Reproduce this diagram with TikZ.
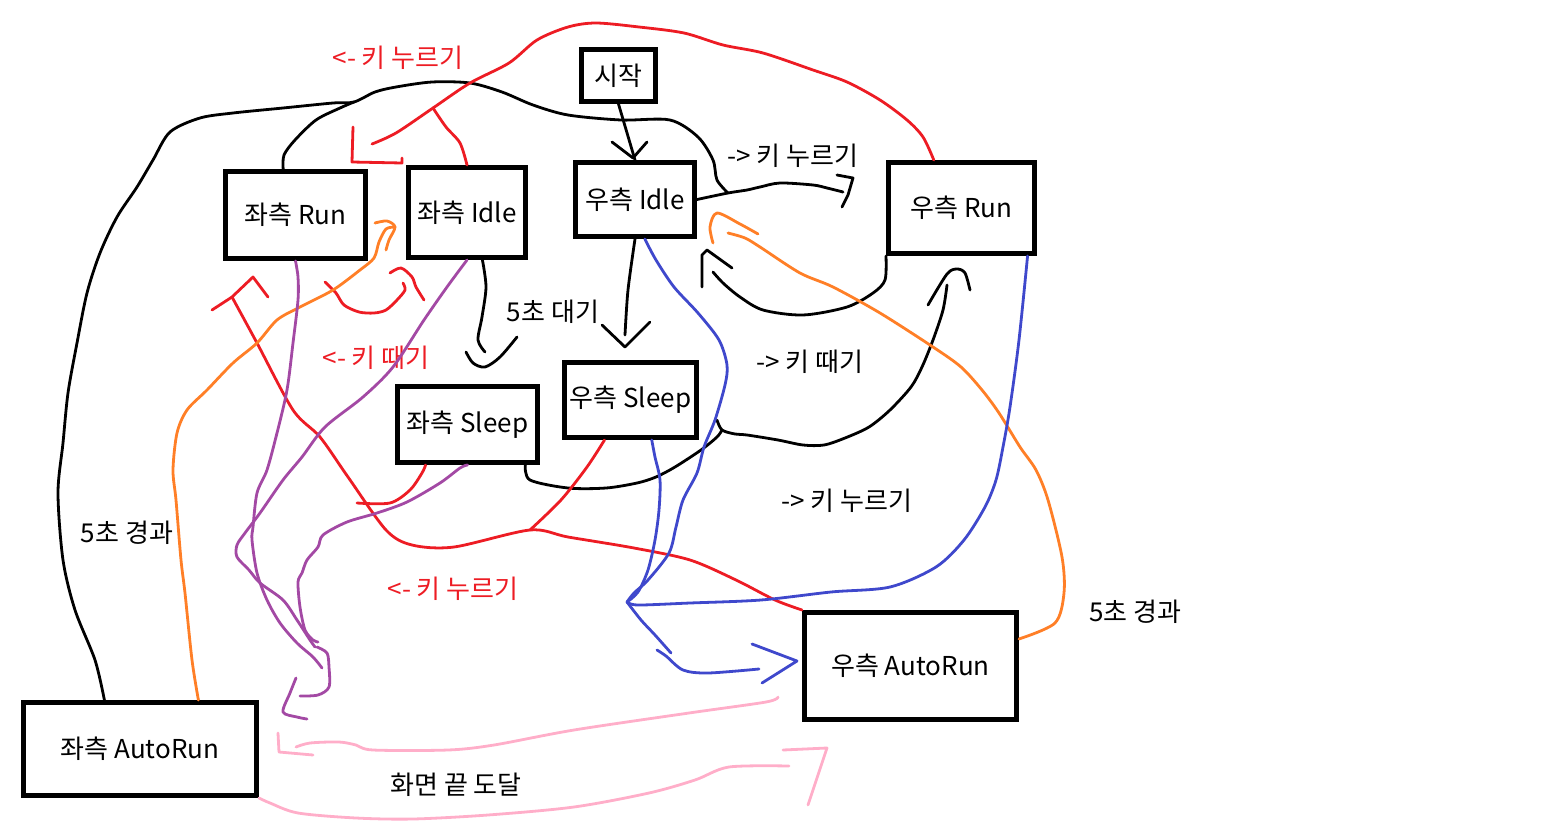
\documentclass[tikz,border=0pt]{standalone}
\usepackage{fontspec}
\setmainfont{Noto Sans CJK KR}
\usepackage{tikz}
\tikzset{>=latex}
\definecolor{penred}{RGB}{237,28,36}
\definecolor{penorange}{RGB}{255,127,39}
\definecolor{penblue}{RGB}{63,72,204}
\definecolor{penpurple}{RGB}{163,73,164}
\definecolor{penpink}{RGB}{255,174,201}
\tikzset{
  box/.style={draw, line width=5pt, inner sep=0pt, fill=white},
  pen/.style={line width=2.8pt, line cap=round, line join=round},
  lbl/.style={inner sep=0pt}
}

\begin{document}
\begin{tikzpicture}[x=1pt,y=-1pt,font=\fontsize{26}{30}\selectfont]
            \useasboundingbox (0,0) rectangle (1543,828);
            % states
            \node[box, minimum width=74, minimum height=52] (start) at (618.5,75.5) {시작};
            \node[box, minimum width=140, minimum height=87] (lrun) at (295.5,215) {좌측 Run};
            \node[box, minimum width=117, minimum height=90] (lidle) at (467,212.5) {좌측 Idle};
            \node[box, minimum width=119, minimum height=74] (ridle) at (635,199.5) {우측 Idle};
            \node[box, minimum width=146, minimum height=91] (rrun) at (961.5,208) {우측 Run};
            \node[box, minimum width=140, minimum height=76] (lsleep) at (467.5,424.5) {좌측 Sleep};
            \node[box, minimum width=132, minimum height=75] (rsleep) at (630.5,400) {우측 Sleep};
            \node[box, minimum width=233, minimum height=93] (lauto) at (140,749) {좌측 AutoRun};
            \node[box, minimum width=212, minimum height=107] (rauto) at (910.5,666) {우측 AutoRun};
            % labels
            \node[lbl, text=penred] (pressL) at (398,58) {<- 키 누르기};
            \node[lbl] (pressR) at (793,156) {-> 키 누르기};
            \node[lbl] (waitS) at (553,312) {5초 대기};
            \node[lbl, text=penred] (releaseL) at (376,358) {<- 키 때기};
            \node[lbl] (releaseR) at (810,362) {-> 키 때기};
            \node[lbl] (pressR2) at (847,501) {-> 키 누르기};
            \node[lbl] (timeL) at (127,533) {5초 경과};
            \node[lbl, text=penred] (pressL2) at (453,589) {<- 키 누르기};
            \node[lbl] (timeR) at (1135,612) {5초 경과};
            \node[lbl] (edge) at (456,785) {화면 끝 도달};
            % junctions
            \coordinate (jtop) at (728,193);
            \coordinate (jsleep) at (722,430);
            \coordinate (jblue) at (627,602);
            \coordinate (jred) at (530,530);

            % black
            \draw[pen] (start.south) -- (ridle.north);
            \draw[pen] (612,142) -- (633,158) -- (647,142);
            \draw[pen] plot[smooth] coordinates {(lauto.126) (95,660) (75,610) (63,560) (58,493) (63,443)
                (68,393) (77,343) (87,293) (100,253) (117,217) (137,187) (153,160) (170,132) (200,118)
                (233,113) (283,108) (333,103) (354,102) (375,92) (396,87) (432,82) (470,83) (502,92)
                (533,105) (568,115) (621,120) (670,120) (698,137) (713,160) (717,180) (jtop)};
            \draw[pen] plot[smooth] coordinates {(lrun.105) (284,155) (295,140) (316,120) (340,108) (354,102)};
            \draw[pen] plot[smooth] coordinates {(ridle.east) (jtop) (747,190) (760,187) (780,183) (813,185) (827,188) (843,192)};
            \draw[pen] (837,175) -- (853,178) -- (848,195) -- (842,207);
            \draw[pen] plot[smooth] coordinates {(rrun.south west) (885,280) (873,293) (847,307) (803,315) (763,310) (740,297) (723,283) (713,272)};
            \draw[pen] (702,287) -- (702,255) -- (707,250) -- (732,268);
            \draw[pen] plot[smooth] coordinates {(lidle.-72) (486,287) (482,317) (478,340) (485,352)};
            \draw[pen] plot[smooth] coordinates {(466,352) (473,363) (485,367) (500,357) (517,337)};
            \draw[pen] plot[smooth] coordinates {(ridle.south) (628,290) (625,335)};
            \draw[pen] (602,325) -- (625,347) -- (650,322);
            \draw[pen] plot[smooth] coordinates {(lsleep.-35) (530,480) (568,488) (606,488) (637,483) (656,477)
                (675,467) (701,450) (717,437) (jsleep)};
            \draw[pen] plot[smooth] coordinates {(717,420) (jsleep) (735,434) (747,435) (778,440) (803,445) (824,445)
                (845,438) (869,427) (890,410) (911,387) (922,367) (933,340) (943,310) (947,285)};
            \draw[pen] plot[smooth] coordinates {(928,305) (947,274) (957,269) (965,273) (970,290)};

            % red
            \draw[pen, penred] plot[smooth] coordinates {(rrun.120) (923,137) (907,120) (880,100) (847,82) (813,70)
                (763,53) (723,45) (684,33) (639,27) (596,23) (568,27) (537,40) (509,63) (470,83) (433,108)
                (396,133) (372,144)};
            \draw[pen, penred] (353,127) -- (352,162) -- (402,163) -- (402,158);
            \draw[pen, penred] plot[smooth] coordinates {(lidle.north) (460,143) (446,127) (433,108)};
            \draw[pen, penred] plot[smooth] coordinates {(325,282) (336,293) (344,305) (359,312) (374,313) (386,310)
                (397,300) (405,290) (403,283)};
            \draw[pen, penred] plot[smooth] coordinates {(390,273) (401,268) (412,277) (416,287) (424,300)};
            \draw[pen, penred] plot[smooth] coordinates {(rauto.north west) (775,600) (736,580) (690,560) (634,548)
                (568,537) (jred) (454,547) (412,545) (386,530) (348,477) (320,437) (293,410) (257,343) (232,297)};
            \draw[pen, penred] (212,310) -- (232,297) -- (253,277) -- (268,297);
            \draw[pen, penred] plot[smooth] coordinates {(rsleep.-123) (587,467) (561,500) (jred)};
            \draw[pen, penred] plot[smooth] coordinates {(357,503) (390,503) (410,490) (422,473) (lsleep.-136)};

            % orange
            \draw[pen, penorange] plot[smooth] coordinates {(lauto.40) (192,660) (185,593) (181,560) (176,500)
                (173,470) (177,433) (187,410) (207,390) (233,363) (257,343) (277,320) (300,307) (333,290)
                (360,270) (374,258) (379,242) (386,229) (395,227)};
            \draw[pen, penorange] plot[smooth] coordinates {(375,223) (387,221) (395,227) (389,240) (386,250)};
            \draw[pen, penorange] plot[smooth] coordinates {(rauto.14) (1055,623) (1064,593) (1062,557) (1048,500)
                (1036,470) (1020,447) (999,413) (982,390) (961,367) (933,347) (880,313) (833,287) (800,273)
                (760,247) (745,238) (728,233)};
            \draw[pen, penorange] plot[smooth] coordinates {(758,234) (740,224) (717,213) (710,227) (713,243)};

            % blue
            \draw[pen, penblue] plot[smooth] coordinates {(ridle.-76) (656,260) (674,287) (698,313) (719,340)
                (727,365) (725,385) (715,420) (704,447) (697,473) (683,500) (676,527) (669,553) (648,580)
                (634,593) (jblue)};
            \draw[pen, penblue] plot[smooth] coordinates {(rsleep.-62) (655,457) (660,480) (659,510) (655,540)
                (648,570) (638,592) (jblue)};
            \draw[pen, penblue] plot[smooth] coordinates {(rrun.-36) (1019,340) (1010,407) (1003,447) (996,480)
                (985,507) (964,540) (936,567) (890,587) (831,592) (761,600) (690,603) (638,605) (jblue)};
            \draw[pen, penblue] plot[smooth] coordinates {(jblue) (641,620) (655,635) (671,653)};
            \draw[pen, penblue] plot[smooth] coordinates {(657,650) (666,656) (683,670) (708,673) (759,669)};
            \draw[pen, penblue] (752,644) -- (797,661) -- (762,683);

            % purple
            \draw[pen, penpurple] plot[smooth] coordinates {(lrun.south) (298,277) (298,300) (293,343) (287,390)
                (277,433) (267,470) (257,493) (253,527) (252,540) (257,573) (267,600) (280,623) (297,643)
                (313,657) (322,668)};
            \draw[pen, penpurple] plot[smooth] coordinates {(lidle.south) (447,287) (424,320) (393,367) (363,397)
                (325,427) (302,457) (283,480) (260,513) (245,533) (237,545) (237,557) (249,570) (260,583)
                (283,600) (297,620) (310,640) (315,647)};
            \draw[pen, penpurple] plot[smooth] coordinates {(lsleep.south) (460,468) (440,483) (407,502) (377,513)
                (347,522) (323,535) (318,547) (307,560) (302,573) (298,582) (300,607) (305,630) (313,640)
                (318,642)};
            \draw[pen, penpurple] plot[smooth] coordinates {(317,647) (327,653) (329,667) (329,687) (318,695) (300,696)};
            \draw[pen, penpurple] plot[smooth] coordinates {(296,678) (290,693) (283,712) (297,717) (307,719)};

            % pink
            \draw[pen, penpink] plot[smooth] coordinates {(778,697) (766,702) (689,713) (574,730) (494,745)
                (448,750) (373,750) (356,745) (339,742) (310,743) (296,747)};
            \draw[pen, penpink] (278,733) -- (279,752) -- (313,755);
            \draw[pen, penpink] plot[smooth] coordinates {(lauto.south east) (270,803) (298,813) (356,818) (413,819)
                (488,815) (574,807) (649,793) (695,780) (729,767) (789,766)};
            \draw[pen, penpink] (783,750) -- (827,748) -- (808,805);
        \end{tikzpicture}
\end{document}
